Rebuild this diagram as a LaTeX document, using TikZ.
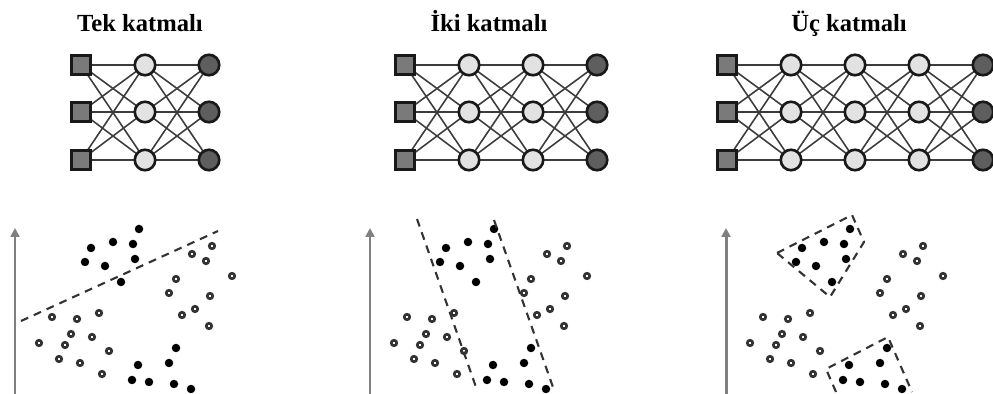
\documentclass[tikz,border=0pt]{standalone}
\usepackage{fontspec}
\setmainfont{Liberation Serif}
\usepackage{xcolor}
\definecolor{inputgray}{HTML}{7A7A7A}
\definecolor{hiddengray}{HTML}{E2E2E2}
\definecolor{outputgray}{HTML}{5E5E5E}
\definecolor{wiregray}{HTML}{3C3C3C}
\definecolor{axisgray}{HTML}{808080}
\usetikzlibrary{arrows.meta,backgrounds}

% sample points, left panel coordinates (px)
\newcommand{\classA}{139/229, 91/248, 113/242, 133/244, 85/262, 105/266, 135/259, 121/282,
  176/348, 138/365, 169/363, 132/380, 149/382, 174/384, 191/389}
\newcommand{\classB}{212/246, 192/254, 206/261, 176/279, 232/276, 169/293, 210/296, 195/309,
  182/315, 209/326, 52/317, 77/319, 99/313, 71/334, 92/337, 39/343, 65/345, 109/351,
  59/359, 80/363, 102/374}

\begin{document}
\begin{tikzpicture}[x=0.02cm, y=-0.02cm,
    heading/.style={font=\fontsize{14pt}{17pt}\selectfont\bfseries, anchor=base, inner sep=0pt},
    inp/.style={rectangle, draw=black!90, fill=inputgray, line width=1.5pt, minimum size=0.38cm, inner sep=0pt},
    hid/.style={circle, draw=black!90, fill=hiddengray, line width=1.5pt, minimum size=0.41cm, inner sep=0pt},
    outp/.style={circle, draw=black!90, fill=outputgray, line width=1.5pt, minimum size=0.41cm, inner sep=0pt},
    wire/.style={wiregray, line width=0.9pt},
    yaxis/.style={-{Triangle[width=5pt,length=5pt]}, axisgray, line width=1.7pt},
    cutline/.style={black!80, line width=1.2pt, dash pattern=on 4.5pt off 3.5pt},
    dotA/.style={fill=black},
    dotB/.style={draw=black!80, fill=white, line width=1.5pt},
  ]
    \useasboundingbox (0,0) rectangle (993,394);

    \node[heading] (ta) at (140,32) {Tek katmalı};
    \node[heading] (tb) at (489,32) {İki katmalı};
    \node[heading] (tc) at (849,32) {Üç katmalı};

    % networks: panel / first column / hidden layers
    \foreach \p/\xa/\nh in {a/81/1, b/405/2, c/727/3} {
      \pgfmathtruncatemacro{\last}{\nh+1}
      \foreach \r/\yy in {1/65, 2/112, 3/160} {
        \node[inp] (\p0\r) at (\xa,\yy) {};
        \foreach \c in {1,...,\nh}
          \node[hid] (\p\c\r) at (\xa+64*\c,\yy) {};
        \node[outp] (\p\last\r) at (\xa+64*\last,\yy) {};
      }
      \begin{scope}[on background layer]
        \foreach \c in {0,...,\nh} {
          \pgfmathtruncatemacro{\nx}{\c+1}
          \foreach \i in {1,2,3}
            \foreach \j in {1,2,3}
              \draw[wire] (\p\c\i.center) -- (\p\nx\j.center);
        }
      \end{scope}
    }

    % scatter plots
    \foreach \sx in {0,355,711} {
      \draw[yaxis] (15+\sx,394) -- (15+\sx,228);
      \foreach \px/\py in \classA
        \fill[dotA] (\px+\sx,\py) circle (0.085cm);
      \foreach \px/\py in \classB
        \draw[dotB] (\px+\sx,\py) circle (0.055cm);
    }

    % decision boundaries
    \draw[cutline] (21,321) -- (218,231);
    \draw[cutline] (417,219) -- (477,390);
    \draw[cutline] (494,220) -- (554,390);
    \draw[cutline] (777,253) -- (852,215) -- (864,242) -- (830,297) -- cycle;
    \draw[cutline] (836,392) -- (826,369) -- (888,337) -- (912,392);
  \end{tikzpicture}
\end{document}
